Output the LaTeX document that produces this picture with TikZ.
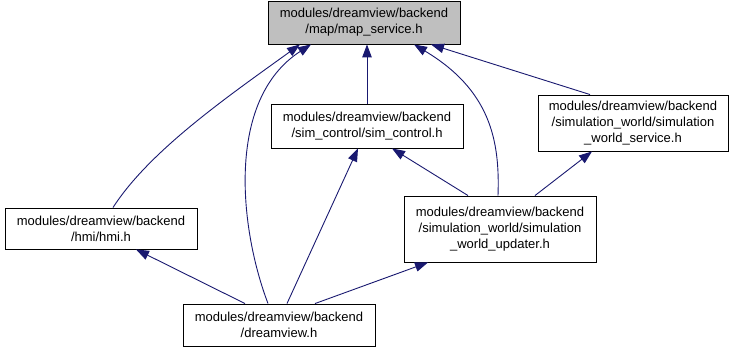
\documentclass[tikz,border=0pt]{standalone}
\usepackage{fontspec}
\setmainfont{Liberation Sans}
\usepackage{xcolor}
\usepackage{tikz}
\usetikzlibrary{arrows.meta}
\definecolor{edgeblue}{RGB}{25,25,112}
\definecolor{curgray}{RGB}{191,191,191}
\tikzstyle{file}=[draw=black,fill=white,line width=0.9pt,align=center,inner sep=0pt,minimum width=192pt,font=\fontsize{13}{16}\selectfont]
\tikzstyle{current}=[file,fill=curgray]
\tikzstyle{incl}=[draw=edgeblue,line width=0.9pt,{Triangle[length=13pt,width=9.5pt]}-]

\begin{document}
\begin{tikzpicture}[x=1pt,y=-1pt]
    \useasboundingbox (0,0) rectangle (733,352);
    \node[current,minimum height=43pt] (map) at (364,22.5) {modules/dreamview/backend\\/map/map\_service.h};
    \node[file,minimum height=44pt] (simctl) at (367,126) {modules/dreamview/backend\\/sim\_control/sim\_control.h};
    \node[file,minimum height=56pt,minimum width=190pt] (wsrv) at (633,123) {modules/dreamview/backend\\/simulation\_world/simulation\\\_world\_service.h};
    \node[file,minimum height=41pt] (hmi) at (101,228.5) {modules/dreamview/backend\\/hmi/hmi.h};
    \node[file,minimum height=66pt] (upd) at (500,229) {modules/dreamview/backend\\/simulation\_world/simulation\\\_world\_updater.h};
    \node[file,minimum height=42pt] (dv) at (279,325) {modules/dreamview/backend\\/dreamview.h};
    % includes of map_service.h
    \draw[incl] ([xshift=-64pt]map.south) .. controls (230,95) and (150,150) .. ([xshift=12pt]hmi.north);
    \draw[incl] ([xshift=-53pt]map.south) .. controls (225,100) and (240,230) .. ([xshift=-11pt]dv.north);
    \draw[incl] ([xshift=3pt]map.south) -- (simctl.north);
    \draw[incl] ([xshift=50pt]map.south) .. controls (490,90) and (500,140) .. ([xshift=-2pt]upd.north);
    \draw[incl] ([xshift=67pt]map.south) -- ([xshift=-43pt]wsrv.north);
    % the rest
    \draw[incl] ([xshift=-9pt]simctl.south) -- ([xshift=8pt]dv.north);
    \draw[incl] ([xshift=25pt]simctl.south) -- ([xshift=-32pt]upd.north);
    \draw[incl] ([xshift=-41pt]wsrv.south) -- ([xshift=35pt]upd.north);
    \draw[incl] ([xshift=35pt]hmi.south) -- ([xshift=-34pt]dv.north);
    \draw[incl] ([xshift=-72pt]upd.south) -- ([xshift=36pt]dv.north);
\end{tikzpicture}
\end{document}
